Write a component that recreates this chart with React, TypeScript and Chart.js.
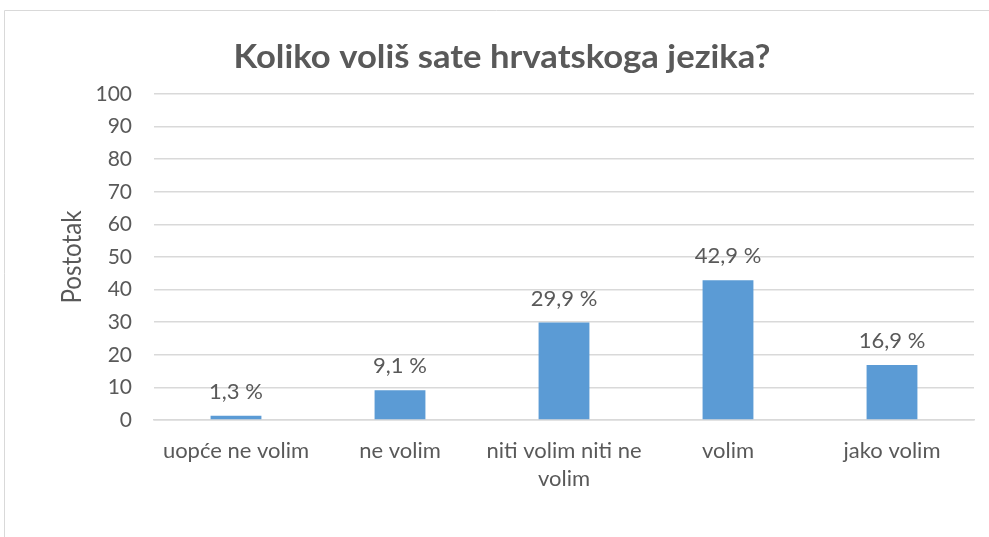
import React, { useEffect, useRef } from "react";
import { Chart, registerables } from "chart.js";

Chart.register(...registerables);

const title = "Koliko voliš sate hrvatskoga jezika?";
const yAxisTitle = "Postotak";
const categories: (string | string[])[] = [
  "uopće ne volim",
  "ne volim",
  ["niti volim niti ne", "volim"],
  "volim",
  "jako volim",
];
const values = [1.3, 9.1, 29.9, 42.9, 16.9];
const valueLabels = ["1,3 %", "9,1 %", "29,9 %", "42,9 %", "16,9 %"];

const TEXT = "#595959";
const FONT = "Lato";

const decorPlugin = {
  id: "decor",
  beforeDraw(chart: any) {
    const ctx = chart.ctx;
    ctx.save();
    ctx.strokeStyle = "#D9D9D9";
    ctx.lineWidth = 1;
    ctx.beginPath();
    ctx.moveTo(4.5, chart.height);
    ctx.lineTo(4.5, 10.5);
    ctx.lineTo(chart.width, 10.5);
    ctx.stroke();
    ctx.restore();
  },
  afterDraw(chart: any) {
    const ctx = chart.ctx;
    const area = chart.chartArea;
    ctx.save();
    // title
    ctx.fillStyle = TEXT;
    ctx.font = `bold 33px ${FONT}`;
    ctx.textAlign = "center";
    ctx.textBaseline = "alphabetic";
    const w = ctx.measureText(title).width;
    const sx = 537 / w;
    ctx.save();
    ctx.translate(502, 68);
    ctx.scale(sx, 1);
    ctx.fillText(title, 0, 0);
    ctx.restore();
    // axis title
    ctx.save();
    ctx.font = `26px ${FONT}`;
    const tw = ctx.measureText(yAxisTitle).width;
    ctx.translate(73, (area.top + area.bottom) / 2);
    ctx.rotate(-Math.PI / 2);
    ctx.scale(93 / tw, 1);
    ctx.textBaseline = "middle";
    ctx.fillText(yAxisTitle, 0, 0);
    ctx.restore();
    // value labels
    const meta = chart.getDatasetMeta(0);
    ctx.font = `22px ${FONT}`;
    ctx.textBaseline = "middle";
    meta.data.forEach((el: any, i: number) => {
      ctx.fillText(valueLabels[i], el.x, el.y - 24);
    });
    ctx.restore();
  },
};

export default function App() {
  const ref = useRef<HTMLCanvasElement>(null);
  useEffect(() => {
    if (!ref.current) return;
    const chart = new Chart(ref.current, {
      type: "bar",
      data: {
        labels: categories,
        datasets: [
          {
            data: values,
            backgroundColor: "#5B9BD5",
            borderWidth: 0,
            barPercentage: 0.31,
            categoryPercentage: 1,
          },
        ],
      },
      options: {
        responsive: false,
        animation: false,
        layout: { padding: { top: 94, right: 15, left: 0, bottom: 0 } },
        plugins: {
          legend: { display: false },
          tooltip: { enabled: false },
          title: { display: false },
        },
        scales: {
          x: {
            grid: { display: false },
            border: { color: "#D9D9D9", width: 1.5 },
            ticks: {
              color: TEXT,
              font: { family: FONT, size: 22, lineHeight: 1.27 },
              maxRotation: 0,
              autoSkip: false,
              padding: 9,
            },
            afterFit: (s: any) => {
              s.height = 117;
            },
          },
          y: {
            min: 0,
            max: 100,
            ticks: {
              stepSize: 10,
              color: TEXT,
              font: { family: FONT, size: 21 },
              padding: 22,
            },
            grid: { color: "#D9D9D9", lineWidth: 1.5, drawTicks: false },
            border: { display: false },
            afterFit: (s: any) => {
              s.width = 154;
            },
          },
        },
      },
      plugins: [decorPlugin],
    });
    return () => chart.destroy();
  }, []);
  return (
    <div style={{ position: "fixed", left: 0, top: 0, width: 989, height: 537, background: "#fff" }}>
      <canvas ref={ref} width={989} height={537} style={{ display: "block" }} />
    </div>
  );
}
